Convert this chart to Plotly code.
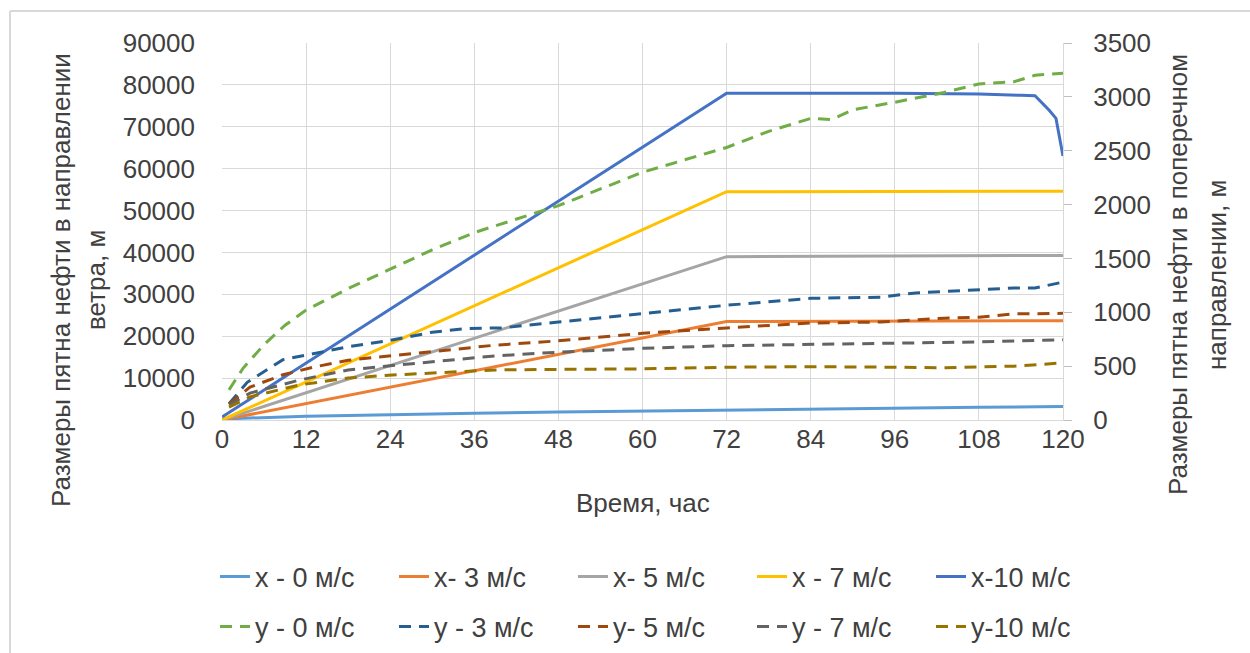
import plotly.graph_objects as go

# ---------------- data ----------------
# x-direction sizes (left axis, m)
t_x0 = [0, 1, 12, 24, 36, 48, 60, 72, 84, 96, 108, 120]
x0 = [0, 300, 900, 1300, 1600, 1900, 2150, 2400, 2650, 2900, 3050, 3200]

t_x3 = [0, 72, 120]
x3 = [0, 23500, 23700]

t_x5 = [0, 72, 120]
x5 = [0, 39000, 39300]

t_x7 = [0, 72, 120]
x7 = [0, 54500, 54600]

t_x10 = [0, 72, 96, 108, 114, 116, 118, 119, 120]
x10 = [700, 78000, 78000, 77800, 77500, 77400, 74000, 72000, 63000]

# y-direction sizes (right axis, m)
t_y0 = [1, 3, 6, 9, 12, 18, 24, 30, 36, 48, 60, 72, 78, 84, 87, 90, 96, 103, 108, 113, 116, 120]
y0 = [280, 480, 700, 880, 1020, 1220, 1400, 1580, 1740, 1990, 2300, 2530, 2680, 2800, 2790, 2880, 2950, 3040, 3120, 3140, 3200, 3220]

t_y3 = [1, 3.6, 8.7, 13.6, 18, 24, 30, 35, 40, 48, 60, 72, 84, 94, 99, 106, 113, 116, 120]
y3 = [150, 350, 560, 620, 680, 740, 815, 850, 855, 910, 990, 1065, 1130, 1140, 1180, 1205, 1225, 1225, 1280]

t_y5 = [1, 4, 8.7, 13, 18, 25, 32, 39, 48, 60, 72, 84, 94, 103, 108, 113, 120]
y5 = [150, 305, 420, 490, 555, 600, 650, 695, 735, 805, 855, 900, 910, 945, 955, 985, 990]

t_y7 = [1, 4, 11, 18, 25, 32, 39, 48, 60, 72, 84, 96, 108, 120]
y7 = [140, 250, 370, 465, 510, 555, 595, 630, 665, 690, 700, 710, 725, 745]

t_y10 = [1, 4, 11, 18, 25, 39, 48, 60, 72, 84, 96, 103, 113, 120]
y10 = [120, 215, 325, 390, 420, 465, 470, 475, 490, 495, 490, 485, 500, 530]

x_names = ["x - 0 м/с", "x- 3 м/с", "x- 5 м/с", "x - 7 м/с", "x-10 м/с"]
y_names = ["y - 0 м/с", "y - 3 м/с", "y- 5 м/с", "y - 7 м/с", "y-10 м/с"]

x_ticks = [0, 12, 24, 36, 48, 60, 72, 84, 96, 108, 120]
left_ticks = [0, 10000, 20000, 30000, 40000, 50000, 60000, 70000, 80000, 90000]
right_ticks = [0, 500, 1000, 1500, 2000, 2500, 3000, 3500]

x_title = "Время, час"
left_title_lines = ["Размеры пятна нефти в направлении", "ветра, м"]
right_title_lines = ["Размеры пятна нефти в поперечном", "направлении, м"]

# ---------------- styles ----------------
x_colors = ["#5B9BD5", "#ED7D31", "#A5A5A5", "#FFC000", "#4472C4"]
y_colors = ["#70AD47", "#255E91", "#9E480E", "#636363", "#997300"]
FONT = "Liberation Sans"
TXT = "#404040"
FS = 26
LFS = 27

fig = go.Figure()
x_series = [(t_x0, x0), (t_x3, x3), (t_x5, x5), (t_x7, x7), (t_x10, x10)]
for (tt, vv), nm, c in zip(x_series, x_names, x_colors):
    fig.add_trace(go.Scatter(x=tt, y=vv, name=nm, mode="lines",
                             line=dict(color=c, width=3), yaxis="y", legend="legend"))

y_series = [(t_y0, y0), (t_y3, y3), (t_y5, y5), (t_y7, y7), (t_y10, y10)]
for (tt, vv), nm, c in zip(y_series, y_names, y_colors):
    fig.add_trace(go.Scatter(x=tt, y=vv, name=nm, mode="lines",
                             line=dict(color=c, width=3, dash="12px,8px"),
                             yaxis="y2", legend="legend2"))

L, R, T, B = 222, 1063, 43, 420
W, H = 1250, 653
pw, ph = R - L, B - T

def px(xp):
    return (xp - L) / pw

def py(yp):
    return (B - yp) / ph

fig.update_layout(
    width=W, height=H,
    margin=dict(l=L, r=W - R, t=T, b=H - B, autoexpand=False),
    paper_bgcolor="white", plot_bgcolor="white",
    font=dict(family=FONT, size=FS, color=TXT),
    xaxis=dict(range=[0, 120], tickvals=x_ticks, ticktext=[str(v) for v in x_ticks],
               showgrid=True, gridcolor="#D9D9D9", gridwidth=1,
               showline=True, linecolor="#D9D9D9", linewidth=1,
               zeroline=False, ticks="", tickfont=dict(size=FS, color=TXT),
               ticklabelstandoff=-4, automargin=False),
    yaxis=dict(range=[0, 90000], tickvals=left_ticks, ticktext=[str(v) for v in left_ticks],
               showgrid=True, gridcolor="#D9D9D9", gridwidth=1, zeroline=False,
               showline=False, ticks="", tickfont=dict(size=FS, color=TXT),
               ticklabelstandoff=26, automargin=False),
    yaxis2=dict(range=[0, 3500], tickvals=right_ticks, ticktext=[str(v) for v in right_ticks],
                overlaying="y", side="right", showgrid=False, zeroline=False,
                showline=True, linecolor="#D9D9D9", linewidth=1,
                ticks="outside", ticklen=8, tickcolor="#BFBFBF",
                tickfont=dict(size=FS, color=TXT), ticklabelstandoff=16, automargin=False),
    legend=dict(orientation="h", xref="paper", yref="paper",
                x=px(215), xanchor="left", y=py(577), yanchor="middle",
                font=dict(size=LFS, color=TXT), bgcolor="rgba(0,0,0,0)",
                entrywidth=134, traceorder="normal"),
    legend2=dict(orientation="h", xref="paper", yref="paper",
                 x=px(215), xanchor="left", y=py(627), yanchor="middle",
                 font=dict(size=LFS, color=TXT), bgcolor="rgba(0,0,0,0)",
                 entrywidth=134, traceorder="normal"),
    showlegend=True,
)

for txt, xx in zip(left_title_lines, [61, 96]):
    fig.add_annotation(text=txt, xref="paper", yref="paper", x=px(xx), y=py(280),
                       xanchor="center", yanchor="middle", textangle=-90, showarrow=False,
                       font=dict(size=FS, color=TXT))
for txt, xx in zip(right_title_lines, [1178, 1217]):
    fig.add_annotation(text=txt, xref="paper", yref="paper", x=px(xx), y=py(275),
                       xanchor="center", yanchor="middle", textangle=-90, showarrow=False,
                       font=dict(size=FS, color=TXT))
fig.add_annotation(text=x_title, xref="paper", yref="paper", x=0.5, y=py(503),
                   xanchor="center", yanchor="middle", showarrow=False,
                   font=dict(size=FS, color=TXT))

# outer frame (left and top edges)
fig.add_shape(type="line", xref="paper", yref="paper", x0=px(10), x1=px(10), y0=py(11), y1=py(660),
              line=dict(color="#D9D9D9", width=2))
fig.add_shape(type="line", xref="paper", yref="paper", x0=px(10), x1=px(1250), y0=py(11), y1=py(11),
              line=dict(color="#D9D9D9", width=2))

fig.write_html("out.html")
